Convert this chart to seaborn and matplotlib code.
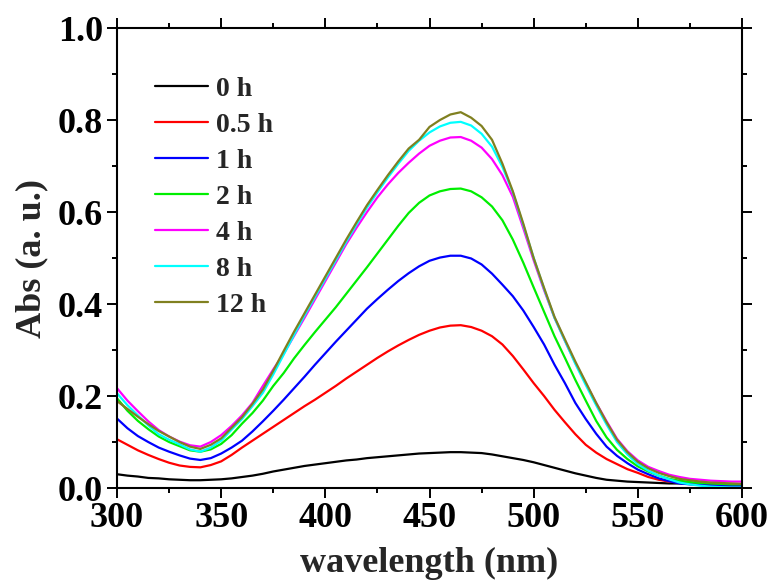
import numpy as np
import pandas as pd
import matplotlib
matplotlib.use("Agg")
import matplotlib.pyplot as plt
import seaborn as sns
from matplotlib.ticker import MultipleLocator

wavelength = list(range(300, 605, 5))

abs_0h = [0.030, 0.027, 0.025, 0.022, 0.021, 0.019, 0.018, 0.017, 0.017, 0.018,
          0.019, 0.021, 0.024, 0.027, 0.031, 0.036, 0.040, 0.044, 0.048, 0.051,
          0.054, 0.057, 0.060, 0.062, 0.065, 0.067, 0.069, 0.071, 0.073, 0.075,
          0.076, 0.077, 0.078, 0.078, 0.077, 0.076, 0.073, 0.069, 0.065, 0.061,
          0.056, 0.050, 0.044, 0.038, 0.032, 0.027, 0.022, 0.018, 0.016, 0.014,
          0.013, 0.012, 0.011, 0.010, 0.010, 0.009, 0.009, 0.009, 0.009, 0.008,
          0.008]
abs_05h = [0.106, 0.094, 0.082, 0.072, 0.063, 0.055, 0.049, 0.046, 0.045, 0.050,
           0.058, 0.072, 0.088, 0.103, 0.118, 0.133, 0.148, 0.163, 0.178, 0.192,
           0.207, 0.222, 0.238, 0.253, 0.268, 0.283, 0.297, 0.310, 0.322, 0.333,
           0.342, 0.349, 0.353, 0.354, 0.350, 0.342, 0.330, 0.312, 0.287, 0.258,
           0.228, 0.200, 0.170, 0.143, 0.117, 0.094, 0.077, 0.063, 0.052, 0.041,
           0.033, 0.024, 0.018, 0.014, 0.012, 0.011, 0.010, 0.009, 0.009, 0.008,
           0.008]
abs_1h = [0.151, 0.130, 0.113, 0.100, 0.088, 0.079, 0.071, 0.064, 0.061, 0.065,
          0.075, 0.088, 0.103, 0.123, 0.145, 0.168, 0.192, 0.217, 0.242, 0.268,
          0.293, 0.318, 0.342, 0.366, 0.390, 0.411, 0.431, 0.450, 0.467, 0.482,
          0.494, 0.501, 0.505, 0.505, 0.499, 0.486, 0.466, 0.442, 0.417, 0.386,
          0.350, 0.312, 0.268, 0.228, 0.185, 0.150, 0.118, 0.090, 0.070, 0.054,
          0.040, 0.030, 0.021, 0.015, 0.010, 0.008, 0.007, 0.006, 0.005, 0.005,
          0.005]
abs_2h = [0.195, 0.168, 0.146, 0.128, 0.112, 0.100, 0.091, 0.082, 0.079, 0.084,
          0.096, 0.115, 0.140, 0.163, 0.190, 0.222, 0.250, 0.282, 0.311, 0.339,
          0.366, 0.393, 0.422, 0.451, 0.480, 0.510, 0.540, 0.570, 0.598, 0.620,
          0.636, 0.645, 0.650, 0.651, 0.645, 0.632, 0.612, 0.582, 0.540, 0.490,
          0.436, 0.383, 0.330, 0.283, 0.235, 0.190, 0.146, 0.110, 0.083, 0.063,
          0.047, 0.036, 0.027, 0.020, 0.016, 0.013, 0.011, 0.010, 0.009, 0.008,
          0.008]
abs_4h = [0.217, 0.190, 0.167, 0.145, 0.126, 0.112, 0.101, 0.093, 0.090, 0.100,
          0.115, 0.135, 0.158, 0.185, 0.222, 0.258, 0.292, 0.331, 0.370, 0.410,
          0.450, 0.490, 0.530, 0.566, 0.600, 0.632, 0.660, 0.685, 0.707, 0.727,
          0.744, 0.755, 0.762, 0.763, 0.755, 0.740, 0.715, 0.680, 0.633, 0.565,
          0.495, 0.430, 0.370, 0.320, 0.272, 0.228, 0.185, 0.145, 0.107, 0.080,
          0.060, 0.046, 0.037, 0.029, 0.024, 0.020, 0.018, 0.016, 0.015, 0.014,
          0.014]
abs_8h = [0.206, 0.180, 0.158, 0.136, 0.117, 0.105, 0.095, 0.084, 0.079, 0.088,
          0.103, 0.127, 0.150, 0.178, 0.207, 0.247, 0.290, 0.333, 0.375, 0.415,
          0.455, 0.495, 0.535, 0.573, 0.610, 0.643, 0.675, 0.705, 0.733, 0.755,
          0.773, 0.786, 0.794, 0.796, 0.788, 0.770, 0.742, 0.698, 0.643, 0.572,
          0.500, 0.433, 0.370, 0.320, 0.270, 0.224, 0.180, 0.138, 0.100, 0.073,
          0.052, 0.038, 0.027, 0.019, 0.012, 0.008, 0.005, 0.003, 0.002, 0.001,
          0.001]
abs_12h = [0.189, 0.172, 0.155, 0.139, 0.124, 0.112, 0.100, 0.090, 0.085, 0.094,
           0.108, 0.131, 0.154, 0.183, 0.214, 0.255, 0.298, 0.340, 0.380, 0.420,
           0.460, 0.500, 0.540, 0.578, 0.615, 0.648, 0.680, 0.710, 0.738, 0.757,
           0.785, 0.800, 0.812, 0.817, 0.805, 0.787, 0.757, 0.705, 0.645, 0.575,
           0.500, 0.435, 0.372, 0.323, 0.275, 0.230, 0.185, 0.143, 0.105, 0.078,
           0.057, 0.043, 0.033, 0.026, 0.020, 0.017, 0.014, 0.012, 0.011, 0.010,
           0.009]

labels = ["0 h", "0.5 h", "1 h", "2 h", "4 h", "8 h", "12 h"]
colors = ["black", "red", "blue", "#00ee00", "magenta", "cyan", "#808020"]
series = [abs_0h, abs_05h, abs_1h, abs_2h, abs_4h, abs_8h, abs_12h]

sns.set_style("ticks")
plt.rcParams["font.family"] = ["Liberation Serif", "DejaVu Serif"]
plt.rcParams["font.weight"] = "bold"

fig = plt.figure(figsize=(7.73, 5.81), dpi=100)
ax = fig.add_axes([0.1514, 0.160, 0.8085, 0.7918])

for lab, col, vals in zip(labels, colors, series):
    df = pd.DataFrame({"wavelength": wavelength, "abs": vals})
    sns.lineplot(data=df, x="wavelength", y="abs", color=col, label=lab,
                 linewidth=1.6, ax=ax)

ax.set_xlim(300, 600)
ax.set_ylim(0, 1.0)
ax.xaxis.set_major_locator(MultipleLocator(50))
ax.xaxis.set_minor_locator(MultipleLocator(25))
ax.yaxis.set_major_locator(MultipleLocator(0.2))
ax.yaxis.set_minor_locator(MultipleLocator(0.1))
ax.yaxis.set_major_formatter(plt.FormatStrFormatter("%.1f"))

for s in ax.spines.values():
    s.set_linewidth(1.5)
    s.set_color("black")
ax.tick_params(which="both", direction="out", top=True, right=True, width=1.4,
               colors="black", labelsize=26, pad=3)
ax.tick_params(which="major", length=7)
ax.tick_params(which="minor", length=3.5)
for t in ax.get_xticklabels() + ax.get_yticklabels():
    t.set_fontweight("bold")

ax.set_xlabel("wavelength (nm)", fontsize=26, fontweight="bold", labelpad=9)
ax.set_ylabel("Abs (a. u.)", fontsize=26, fontweight="bold", labelpad=7)

ax.legend(loc="upper left", bbox_to_anchor=(0.061, 0.894), frameon=False,
          prop={"size": 20, "weight": "bold"}, handlelength=1.9,
          handletextpad=0.3, labelspacing=0.38, borderaxespad=0, borderpad=0)

plt.savefig("out.png", dpi=100)
